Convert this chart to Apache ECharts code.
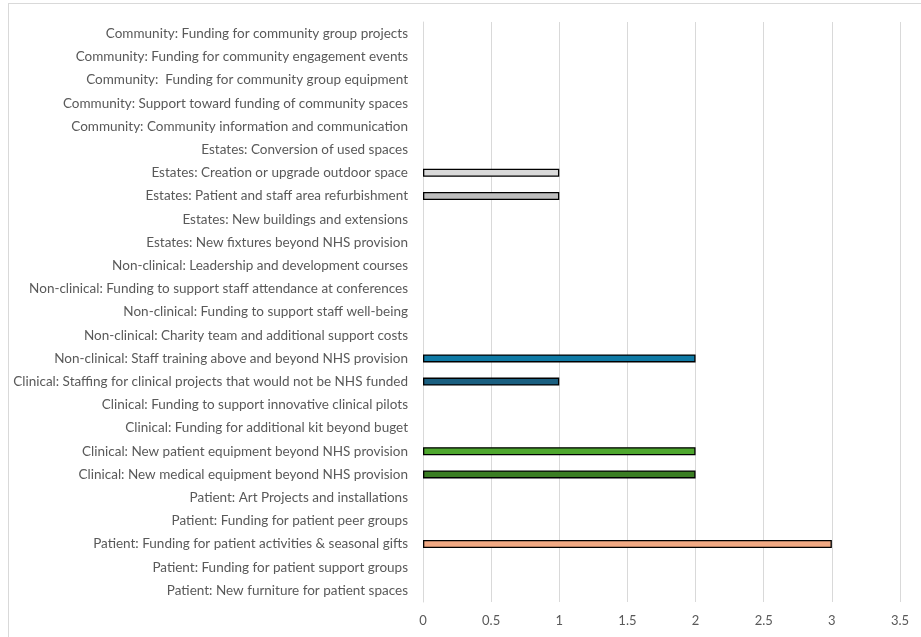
<!DOCTYPE html>
<html>
<head>
<meta charset="utf-8">
<script src="https://cdn.jsdelivr.net/npm/echarts@6/dist/echarts.min.js"></script>
<style>
  html, body { margin: 0; padding: 0; background: #fff; }
  #frame { position: absolute; left: 8px; top: 3px; width: 930px; height: 650px; border: 1px solid #d9d9d9; box-sizing: border-box; }
  #chart { position: absolute; left: 0; top: 0; width: 921px; height: 637px; }
</style>
</head>
<body>
<div id="frame"></div>
<div id="chart"></div>
<script>
// Funding categories, listed bottom to top as drawn on the category axis
const categories = [
  "Patient: New furniture for patient spaces",
  "Patient: Funding for patient support groups",
  "Patient: Funding for patient activities & seasonal gifts",
  "Patient: Funding for patient peer groups",
  "Patient: Art Projects and installations",
  "Clinical: New medical equipment beyond NHS provision",
  "Clinical: New patient equipment beyond NHS provision",
  "Clinical: Funding for additional kit beyond buget",
  "Clinical: Funding to support innovative clinical pilots",
  "Clinical: Staffing for clinical projects that would not be NHS funded",
  "Non-clinical: Staff training above and beyond NHS provision",
  "Non-clinical: Charity team and additional support costs",
  "Non-clinical: Funding to support staff well-being",
  "Non-clinical: Funding to support staff attendance at conferences",
  "Non-clinical: Leadership and development courses",
  "Estates: New fixtures beyond NHS provision",
  "Estates: New buildings and extensions",
  "Estates: Patient and staff area refurbishment",
  "Estates: Creation or upgrade outdoor space",
  "Estates: Conversion of used spaces",
  "Community: Community information and communication",
  "Community: Support toward funding of community spaces",
  "Community:  Funding for community group equipment",
  "Community: Funding for community engagement events",
  "Community: Funding for community group projects"
];

// Count per category
const counts = [0, 0, 3, 0, 0, 2, 2, 0, 0, 1, 2, 0, 0, 0, 0, 0, 0, 1, 1, 0, 0, 0, 0, 0, 0];

// Fill colour per category
const barColors = [
  "#f1a983", "#f1a983", "#f1a983", "#f1a983", "#f1a983",
  "#3a7d22", "#4ea72e", "#4ea72e", "#4ea72e", "#1a5f80",
  "#0f7aa5", "#0f7aa5", "#0f7aa5", "#0f7aa5", "#0f7aa5",
  "#bfbfbf", "#bfbfbf", "#bfbfbf", "#d9d9d9", "#d9d9d9",
  "#d9d9d9", "#d9d9d9", "#d9d9d9", "#d9d9d9", "#d9d9d9"
];

// Value axis ticks
const xMin = 0, xMax = 3.5, xStep = 0.5;

const chart = echarts.init(document.getElementById('chart'), null, { renderer: 'canvas' });
const textFont = 'Lato, "Open Sans", sans-serif';

chart.setOption({
  animation: false,
  backgroundColor: 'transparent',
  grid: { left: 423, right: 21, top: 22, bottom: 35, containLabel: false },
  xAxis: {
    type: 'value',
    min: xMin, max: xMax, interval: xStep,
    axisLine: { show: false },
    axisTick: { show: false },
    splitLine: { show: true, lineStyle: { color: '#d9d9d9', width: 1 } },
    axisLabel: {
      color: '#595959', fontSize: 13, fontFamily: textFont, margin: 12,
      formatter: v => String(v)
    }
  },
  yAxis: {
    type: 'category',
    data: categories,
    axisLine: { show: true, lineStyle: { color: '#d9d9d9' } },
    axisTick: { show: false },
    splitLine: { show: false },
    axisLabel: { color: '#595959', fontSize: 13.5, fontFamily: textFont, margin: 15, interval: 0 }
  },
  series: [{
    type: 'bar',
    barWidth: 8,
    data: counts.map((v, i) => ({
      value: v,
      itemStyle: { color: barColors[i], borderColor: '#000000', borderWidth: v > 0 ? 1.3 : 0 }
    }))
  }]
});
</script>
</body>
</html>
